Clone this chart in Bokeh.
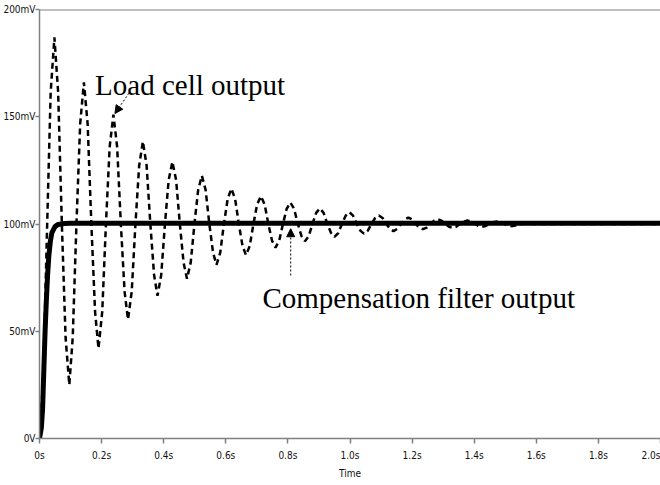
from bokeh.plotting import figure
from bokeh.models import Range1d, FixedTicker, Label, Arrow, NormalHead, Span
from bokeh.embed import file_html
from bokeh.resources import INLINE

# ---- data ----
load_t = [0, 0.012, 0.024,
          0.036, 0.048, 0.060, 0.072,
          0.084, 0.096, 0.107, 0.119,
          0.131, 0.143, 0.155, 0.167,
          0.179, 0.190, 0.202, 0.214,
          0.226, 0.238, 0.250, 0.262,
          0.274, 0.285, 0.297, 0.309,
          0.321, 0.333, 0.345, 0.357,
          0.369, 0.380, 0.392, 0.404,
          0.416, 0.428, 0.440, 0.452,
          0.464, 0.475, 0.487, 0.499,
          0.511, 0.523, 0.535, 0.547,
          0.559, 0.570, 0.582, 0.594,
          0.606, 0.618, 0.630, 0.642,
          0.654, 0.665, 0.677, 0.689,
          0.701, 0.713, 0.725, 0.737,
          0.749, 0.760, 0.772, 0.784,
          0.796, 0.808, 0.820, 0.832,
          0.844, 0.855, 0.867, 0.879,
          0.891, 0.903, 0.915, 0.927,
          0.939, 0.950, 0.962, 0.974,
          0.986, 0.998, 1.010, 1.022,
          1.034, 1.045, 1.057, 1.069,
          1.081, 1.093, 1.105, 1.117,
          1.129, 1.140, 1.152, 1.164,
          1.176, 1.188, 1.200, 1.212,
          1.224, 1.235, 1.247, 1.259,
          1.271, 1.283, 1.295, 1.307,
          1.319, 1.330, 1.342, 1.354,
          1.366, 1.378, 1.390, 1.402,
          1.414, 1.425, 1.437, 1.449,
          1.461, 1.473, 1.485, 1.497,
          1.509, 1.520, 1.532, 1.544,
          1.6, 1.8, 2.0]

load_mv = [0, 28, 96,
           161.5, 187, 161.5, 100,
           47, 25, 47, 100,
           146.7, 166, 146.7, 100,
           59, 42, 59, 100,
           136, 151, 136, 100,
           68.5, 55.5, 68.5, 100,
           127.2, 138.5, 127.2, 100,
           76.3, 66.5, 76.3, 100,
           120.5, 129, 120.5, 100,
           82, 74.5, 82, 100,
           115.9, 122.5, 115.9, 100,
           86.6, 81, 86.6, 100,
           111.7, 116.5, 111.7, 100,
           89.7, 85.5, 89.7, 100,
           109.2, 113, 109.2, 100,
           92.2, 89, 92.2, 100,
           107.1, 110, 107.1, 100,
           94.3, 92, 94.3, 100,
           105.2, 107.3, 105.2, 100,
           95.8, 94, 95.8, 100,
           103.9, 105.5, 103.9, 100,
           96.8, 95.5, 96.8, 100,
           102.8, 104, 102.8, 100,
           97.7, 96.7, 97.7, 100,
           102.1, 103, 102.1, 100,
           98.3, 97.6, 98.3, 100,
           101.6, 102.2, 101.6, 100,
           98.7, 98.2, 98.7, 100,
           101.1, 101.6, 101.1, 100,
           99.1, 98.7, 99.1, 100,
           100.8, 101.2, 100.8, 100,
           99.3, 99, 99.3, 100,
           100, 100, 100]

filt_t = [0, 0.006, 0.010, 0.014, 0.018, 0.022, 0.026, 0.030, 0.035,
          0.040, 0.050, 0.060, 0.080, 0.100, 2.0]
filt_mv = [0, 5, 14, 32, 50, 64, 76, 85, 92, 96, 98.8, 99.8, 100.2, 100.3, 100.3]

x_ticks = [0, 0.2, 0.4, 0.6, 0.8, 1.0, 1.2, 1.4, 1.6, 1.8, 2.0]
x_tick_labels = ["0s", "0.2s", "0.4s", "0.6s", "0.8s", "1.0s", "1.2s", "1.4s",
                 "1.6s", "1.8s", "2.0s"]
y_ticks = [0, 50, 100, 150, 200]
y_tick_labels = ["0V", "50mV", "100mV", "150mV", "200mV"]

load_label = "Load cell output"
filt_label = "Compensation filter output"
x_title = "Time"

# ---- figure ----
AX = "#808080"
TICK_FONT = "DejaVu Sans Condensed"

p = figure(width=660, height=485, x_range=Range1d(0, 2.0), y_range=Range1d(0, 200),
           output_backend="svg", toolbar_location=None,
           min_border_left=0, min_border_right=0, min_border_top=9, min_border_bottom=47)
p.outline_line_color = None
p.grid.visible = False
p.background_fill_color = "white"
p.border_fill_color = "white"

for ax in (p.xaxis[0], p.yaxis[0]):
    ax.axis_line_color = AX
    ax.axis_line_width = 1.5
    ax.major_tick_line_color = AX
    ax.major_tick_line_width = 1.5
    ax.major_tick_in = 0
    ax.minor_tick_out = 0
    ax.minor_tick_line_color = None
    ax.major_label_text_font = TICK_FONT
    ax.major_label_text_font_size = "10px"
    ax.major_label_text_color = "#111111"

p.xaxis.ticker = FixedTicker(ticks=x_ticks)
p.xaxis.major_label_overrides = {t: l for t, l in zip(x_ticks, x_tick_labels)}
p.xaxis.major_tick_out = 5
p.xaxis.major_label_standoff = 6
p.xaxis.axis_label = x_title
p.xaxis.axis_label_text_font = TICK_FONT
p.xaxis.axis_label_text_font_size = "10px"
p.xaxis.axis_label_text_font_style = "normal"
p.xaxis.axis_label_text_color = "#111111"
p.xaxis.axis_label_standoff = 4

p.yaxis.ticker = FixedTicker(ticks=y_ticks)
p.yaxis.major_label_overrides = {t: l for t, l in zip(y_ticks, y_tick_labels)}
p.yaxis.major_tick_out = 4
p.yaxis.major_label_standoff = 0

p.add_layout(Span(location=200, dimension="width", line_color=AX, line_width=2))

p.line(load_t, load_mv, line_color="black", line_width=2.5, line_dash="6 4")
p.line(filt_t, filt_mv, line_color="black", line_width=5)

p.add_layout(Label(x=0.179, y=164.6, text=load_label, text_font="Liberation Serif",
                   text_font_size="29px", text_color="black",
                   text_baseline="alphabetic", text_align="left"))
p.add_layout(Label(x=0.718, y=65.7, text=filt_label, text_font="Liberation Serif",
                   text_font_size="29px", text_color="black",
                   text_baseline="alphabetic", text_align="left"))

p.add_layout(Arrow(end=NormalHead(size=8, fill_color="black", line_color="black", line_width=1),
                   x_start=0.288, y_start=161.0, x_end=0.243, y_end=151.5,
                   line_color="black", line_width=1, line_dash="2 2"))
p.add_layout(Arrow(end=NormalHead(size=8, fill_color="black", line_color="black", line_width=1),
                   x_start=0.809, y_start=76.0, x_end=0.809, y_end=97.8,
                   line_color="black", line_width=1, line_dash="2 2"))

open("out.html", "w").write(file_html(p, INLINE))
